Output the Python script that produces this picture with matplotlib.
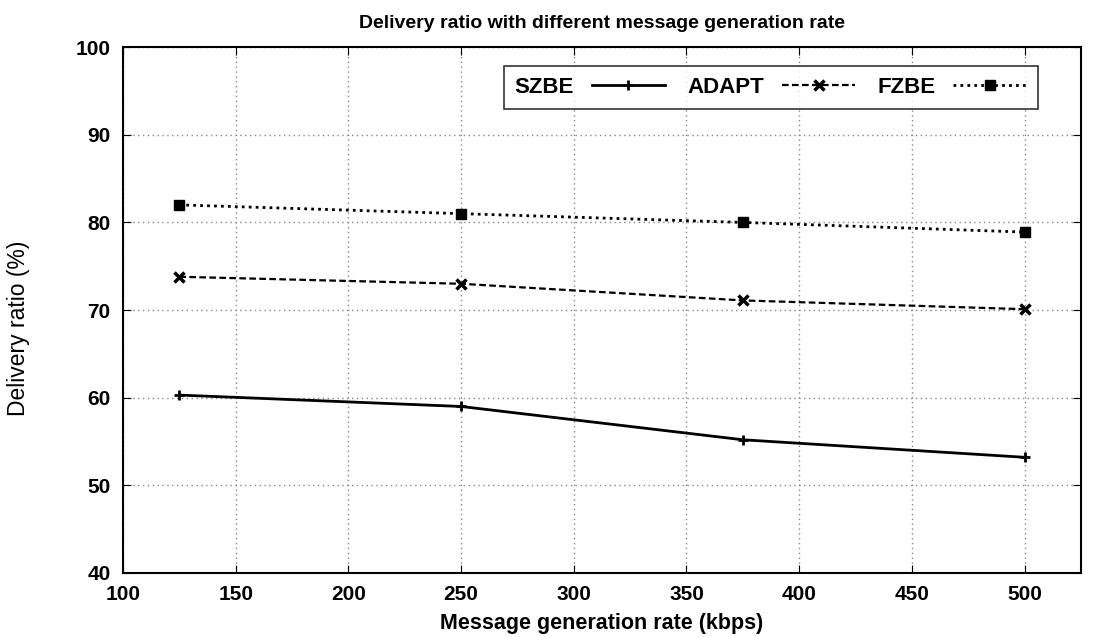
import matplotlib
matplotlib.use("Agg")
import matplotlib.pyplot as plt

rates = [125, 250, 375, 500]
szbe = [60.3, 59.0, 55.2, 53.2]
adapt = [73.8, 73.0, 71.1, 70.1]
fzbe = [82.0, 81.0, 80.0, 78.9]

plt.rcParams['font.family'] = ['Liberation Sans', 'DejaVu Sans']

fig = plt.figure(figsize=(11.1, 6.37), dpi=100)
ax = fig.add_axes([0.1108, 0.1005, 0.863, 0.8255])

ax.plot(rates, szbe, color="black", linestyle="-", linewidth=2, marker="+", markersize=7, mew=2, label="SZBE")
ax.plot(rates, adapt, color="black", linestyle=(0, (3, 1.5)), linewidth=1.6, marker="x", markersize=7, mew=2.5, label="ADAPT")
ax.plot(rates, fzbe, color="black", linestyle=(0, (1, 1.5)), linewidth=2, marker="s", markersize=6.5, label="FZBE")

ax.set_xlim(100, 525)
ax.set_ylim(40, 100)
ax.set_xticks(range(100, 501, 50))
ax.set_yticks(range(40, 101, 10))
ax.grid(True, color="#888888", linestyle=(0, (1, 2.5)), linewidth=1)
ax.tick_params(direction="in", top=True, right=True, length=6, labelsize=15, pad=9)
for lab in ax.get_xticklabels() + ax.get_yticklabels():
    lab.set_fontweight("bold")
for s in ax.spines.values():
    s.set_linewidth(1.5)

ax.set_title("Delivery ratio with different message generation rate", fontsize=14, fontweight="bold", pad=14)
ax.set_xlabel("Message generation rate (kbps)", fontsize=15.5, fontweight="bold", labelpad=6)
ax.set_ylabel("Delivery ratio (%)", fontsize=16.5)
ax.yaxis.set_label_coords(-0.097, 0.466)

leg = ax.legend(loc="upper right", bbox_to_anchor=(0.955, 0.965), ncol=3, markerfirst=False,
                frameon=True, fancybox=False, edgecolor="black", handlelength=3.3,
                handletextpad=0.8, columnspacing=1.0, prop={"weight": "bold", "size": 16},
                borderpad=0.5, borderaxespad=0)
leg.get_frame().set_linewidth(1.2)

fig.savefig("out.png", dpi=100)
